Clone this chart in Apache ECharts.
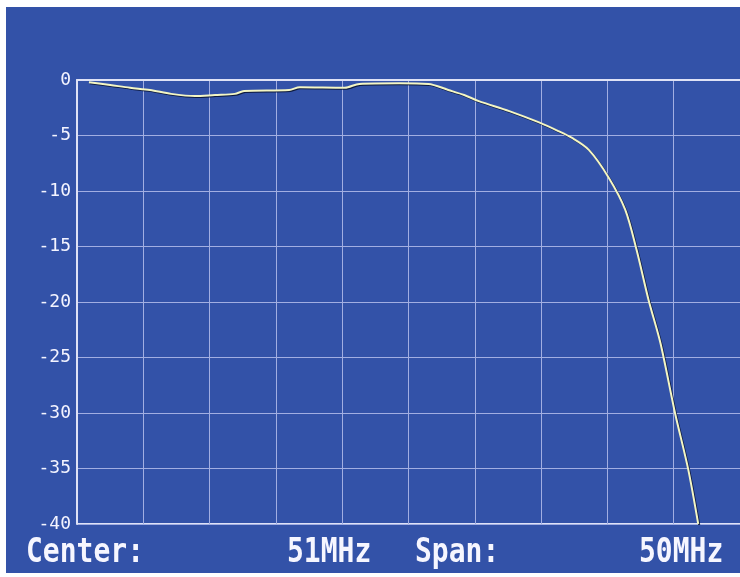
<!DOCTYPE html>
<html>
<head>
<meta charset="utf-8">
<script src="https://cdn.jsdelivr.net/npm/echarts@6/dist/echarts.min.js"></script>
<style>
  html, body { margin: 0; padding: 0; background: #ffffff; }
  #wrap { position: relative; width: 740px; height: 577px; overflow: hidden; background: #ffffff; }
  #chart { position: absolute; left: 6px; top: 7px; width: 734px; height: 566px; }
</style>
</head>
<body>
<div id="wrap"><div id="chart"></div></div>
<script>
// 频率 (MHz) 与电平 (dB)
var freqMHz = [26.9, 28.5, 30.0, 31.5, 33.1, 34.9, 36.4, 37.9, 38.6, 42.0, 42.8, 46.2, 47.3, 50.3, 52.5,
               54.0, 55.2, 56.3, 58.6, 60.8, 62.3, 63.3, 64.6, 66.1, 67.35, 68.2, 69.1, 70.0, 71.1, 72.1, 72.85];
var levelDb = [-0.2, -0.45, -0.7, -0.9, -1.25, -1.45, -1.35, -1.25, -1.0, -0.9, -0.65, -0.7, -0.35, -0.3, -0.35,
               -0.9, -1.35, -1.9, -2.8, -3.8, -4.6, -5.2, -6.3, -8.8, -11.7, -15.3, -19.8, -23.7, -30.0, -35.1, -40.0];
var yTicks = [0, -5, -10, -15, -20, -25, -30, -35, -40];
var footer = ['Center:', '51MHz', 'Span:', '50MHz'];

var trace = freqMHz.map(function (f, i) { return [f, levelDb[i]]; });

var footFont = 'bold 28px "DejaVu Sans Mono"';
function footText(x, s) {
    return { type: 'text', x: x, y: 529, scaleY: 1.2,
             style: { text: s, fill: '#f6f6ff', font: footFont } };
}

var myChart = echarts.init(document.getElementById('chart'));
var option = {
    backgroundColor: '#3352a8',
    animation: false,
    grid: { left: 71, top: 73, width: 665, height: 444, containLabel: false },
    xAxis: [{
        type: 'value', min: 26, max: 76, interval: 5,
        axisLine: { show: false },
        axisTick: { show: false },
        axisLabel: { show: false },
        splitLine: { show: true, lineStyle: { color: '#a2aee2', width: 1 } }
    }, {
        type: 'value', position: 'top', min: 26, max: 76, interval: 5,
        axisLine: { show: true, lineStyle: { color: '#dfe2f6', width: 2 } },
        axisTick: { show: false },
        axisLabel: { show: false },
        splitLine: { show: false }
    }],
    yAxis: {
        type: 'value', min: -40, max: 0, interval: 5,
        axisLine: { show: true, lineStyle: { color: '#dfe2f6', width: 2 } },
        axisTick: { show: false },
        axisLabel: {
            color: '#f4f4ff', fontFamily: 'DejaVu Sans Mono', fontSize: 18, margin: 6,
            formatter: function (v) { return yTicks.indexOf(v) >= 0 ? String(v) : ''; }
        },
        splitLine: { show: true, lineStyle: { color: '#a2aee2', width: 1 } }
    },
    graphic: [
        { type: 'rect', left: 71, top: 516, shape: { width: 670, height: 2 }, style: { fill: '#dfe2f6' }, silent: true },
        footText(20, footer[0]),
        footText(281, footer[1]),
        footText(409, footer[2]),
        footText(633, footer[3])
    ],
    series: [{
        type: 'line',
        data: trace,
        symbol: 'none',
        smooth: 0.3,
        lineStyle: {
            color: '#f4f6c4', width: 2,
            shadowColor: 'rgba(10,20,50,0.9)', shadowBlur: 0, shadowOffsetX: 1, shadowOffsetY: 1
        }
    }]
};
myChart.setOption(option);
</script>
</body>
</html>
